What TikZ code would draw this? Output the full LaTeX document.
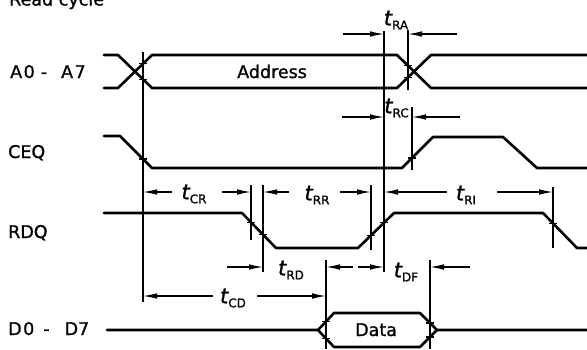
\documentclass[tikz,border=0pt]{standalone}
\usepackage{fontspec}
\setmainfont{DejaVu Sans}
\newfontface\lblff{DejaVu Sans}[FakeBold=1.2]
\newfontface\tff{DejaVu Sans Oblique}[FakeBold=1.2]
\usetikzlibrary{arrows.meta}
\newcommand\lblfont{\lblff\fontsize{17.5pt}{17.5pt}\selectfont}
\newcommand\tsym[1]{{\tff\fontsize{21pt}{21pt}\selectfont t}{\lblff\fontsize{12pt}{12pt}\selectfont\raisebox{-4pt}{#1}}}
\begin{document}
\begin{tikzpicture}[x=1pt,y=-1pt,
  sig/.style={line width=2.6pt, line join=round, line cap=round},
  thinl/.style={line width=1.1pt},
  dim/.style={line width=1.2pt, -{Latex[length=14pt,width=5.6pt]}},
  lbl/.style={font=\lblfont, inner sep=0pt},
  tl/.style={inner sep=0pt}]
\useasboundingbox (0,0) rectangle (587,349);
\clip (0,0) rectangle (587,349);

% signal labels
\node[lbl, anchor=base west] (title) at (9,5.5) {Read cycle};
\node[lbl, anchor=base west] (la) at (10,78) {A\kern1.5pt0\hspace{6pt}-\hspace{14pt}A\kern1.5pt7};
\node[lbl, anchor=base west] (lc) at (8,158) {CEQ};
\node[lbl, anchor=base west] (lr) at (8,238) {RDQ};
\node[lbl, anchor=base west] (ld) at (8,335) {D\kern1.5pt0\hspace{9pt}-\hspace{15pt}D7};

% A0 - A7
\draw[sig] (104,55) -- (118,55) -- (152,88) -- (397,88) -- (431,55) -- (587,55);
\draw[sig] (104,88) -- (118,88) -- (152,55) -- (397,55) -- (431,88) -- (587,88);
\node[lbl, anchor=base west] (addr) at (237,78) {Address};

% CEQ
\draw[sig] (104,136) -- (120,136) -- (152,168) -- (402,168) -- (433,137) -- (503,137) -- (537,168) -- (587,168);

% RDQ
\draw[sig] (104,213) -- (242,213) -- (276,248) -- (358,248) -- (394,213) -- (543,213) -- (577,248) -- (590,248);

% D0 - D7
\draw[sig] (107,330) -- (318,330) -- (334,313) -- (420,313) -- (437,330) -- (590,330);
\draw[sig] (318,330) -- (334,347) -- (420,347) -- (437,330);
\node[lbl, anchor=base west] (data) at (355,336) {Data};

% reference verticals
\draw[thinl] (143,52) -- (143,302);
\draw[thinl] (384,31) -- (384,272);
\draw[thinl] (408,30) -- (408,90);
\draw[thinl] (412,107) -- (412,170);
\draw[thinl] (251,185) -- (251,240);
\draw[thinl] (263,185) -- (263,272);
\draw[thinl] (371,185) -- (371,250);
\draw[thinl] (553,187) -- (553,248);
\draw[thinl] (326,260) -- (326,349);
\draw[thinl] (430,260) -- (430,349);

% crossing ticks
\foreach \x/\y in {143/63.7, 143/79.3, 408/65.7, 408/77.3, 143/159, 412/158,
  251/222.3, 263/234.6, 371/235.4, 384/222.7, 553/223.3,
  326/321.5, 326/338.5, 430/323, 430/337}
  \draw[thinl] (\x-4,\y) -- (\x+4,\y);

% dimension arrows
\draw[dim] (343,34) -- (384,34);
\draw[dim] (457,34) -- (408,34);
\node[tl] (tra) at (396,20) {\tsym{RA}};

\draw[dim] (342,117) -- (384,117);
\draw[dim] (460,117) -- (412,117);
\node[tl] (trc) at (396.5,108) {\tsym{RC}};

\draw[dim] (172,192) -- (143,192);
\draw[dim] (222,192) -- (251,192);
\node[tl] (tcr) at (194,194) {\tsym{CR}};

\draw[dim] (289,192) -- (263,192);
\draw[dim] (340,192) -- (371,192);
\node[tl] (trr) at (317,195) {\tsym{RR}};

\draw[dim] (447,192) -- (384,192);
\draw[dim] (497,192) -- (553,192);
\node[tl] (tri) at (466,195) {\tsym{RI}};

\draw[dim] (227,267) -- (263,267);
\draw[dim] (353,267) -- (326,267);
\node[tl] (trd) at (291,270) {\tsym{RD}};

\draw[dim] (358,267) -- (384,267);
\draw[dim] (470,267) -- (430,267);
\node[tl] (tdf) at (406,272) {\tsym{DF}};

\draw[dim] (213,296) -- (143,296);
\draw[dim] (257,296) -- (326,296);
\node[tl] (tcd) at (233,298) {\tsym{CD}};
\end{tikzpicture}
\end{document}
